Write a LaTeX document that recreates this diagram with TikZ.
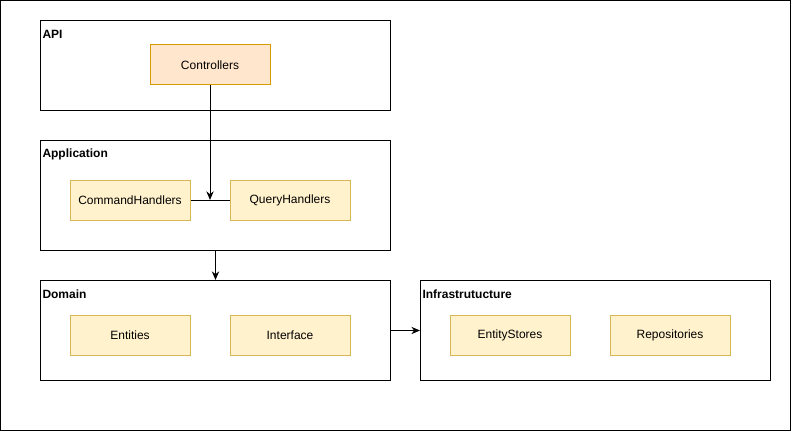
\documentclass[tikz,border=0pt]{standalone}
\usepackage{fontspec}
\setmainfont{Liberation Sans}
\definecolor{ctrlfill}{HTML}{FFE6CC}
\definecolor{ctrldraw}{HTML}{D79B00}
\definecolor{itemfill}{HTML}{FFF2CC}
\definecolor{itemdraw}{HTML}{D6B656}
\usetikzlibrary{arrows.meta, positioning, calc}

\begin{document}
\begin{tikzpicture}[x=0.75pt, y=-0.75pt, line width=0.75pt,
    font=\fontsize{9pt}{11pt}\selectfont,
    layer/.style={draw, anchor=north west, minimum width=262.5pt, inner sep=0pt},
    layername/.style={anchor=west, inner sep=1.5pt, font=\fontsize{9pt}{11pt}\selectfont\bfseries},
    item/.style={draw=itemdraw, fill=itemfill, minimum width=90pt, minimum height=30pt, inner sep=0pt},
    ctrlbox/.style={draw=ctrldraw, fill=ctrlfill, minimum width=90pt, minimum height=30pt, inner sep=0pt},
    link/.style={-{Stealth[length=6.5pt, width=5.5pt]}}]
  \useasboundingbox (0,0) rectangle (791,431);
  % outer frame
  \draw (0.5,0.5) rectangle (790,430);

  % API layer
  \node[layer, minimum height=67.5pt] (api) at (40,20) {};
  \node[layername] (apiname) at ($(api.north west)+(0,14)$) {API};
  \node[ctrlbox] (ctrl) at (210,65) {Controllers};

  % Application layer
  \node[layer, minimum height=82.5pt] (app) at (40,140) {};
  \node[layername] (appname) at ($(app.north west)+(0,14)$) {Application};
  \node[item] (cmd) at (130,200) {CommandHandlers};
  \node[item] (qry) at (290,200) {QueryHandlers};
  \coordinate (join) at ($(cmd.east)!0.5!(qry.west)$);

  % Domain layer
  \node[layer, minimum height=75pt] (dom) at (40,280) {};
  \node[layername] (domname) at ($(dom.north west)+(0,14)$) {Domain};
  \node[item] (ent) at (130,335) {Entities};
  \node[item] (intf) at (290,335) {Interface};

  % Infrastructure layer
  \node[layer, minimum height=75pt] (infra) at (420,280) {};
  \node[layername] (infraname) at ($(infra.north west)+(0,14)$) {Infrastrutucture};
  \node[item] (store) at (510,335) {EntityStores};
  \node[item] (repo) at (670,335) {Repositories};

  % connectors
  \draw (cmd) -- (qry);
  \draw[link] (ctrl.south) -- (join);
  \draw[link] (app.south) -- (dom.north);
  \draw[link] (dom.east) -- (infra.west);
\end{tikzpicture}
\end{document}
